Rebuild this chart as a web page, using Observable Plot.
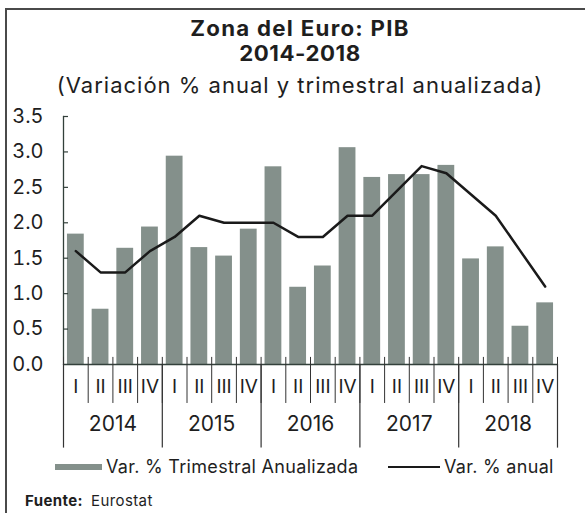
<!DOCTYPE html>
<html>
<head>
<meta charset="utf-8">
<script src="https://cdn.jsdelivr.net/npm/d3@7"></script>
<script src="https://cdn.jsdelivr.net/npm/@observablehq/plot@0.6"></script>
<style>
  html, body { margin: 0; padding: 0; background: #fff; }
  body { width: 585px; height: 513px; position: relative; overflow: hidden; font-family: "Inter", "Open Sans", sans-serif; color: #1e1e1e; }
  .frame { position: absolute; left: 5px; top: 8px; width: 580px; height: 510px; border-left: 2px solid #4a4a4a; border-top: 2px solid #4a4a4a; box-sizing: border-box; }
  .t { position: absolute; left: 15px; width: 570px; text-align: center; white-space: nowrap; }
  #t1 { top: 15.5px; font-size: 21px; font-weight: 700; line-height: 25.5px; letter-spacing: 1.2px; transform: scaleX(1.06); transform-origin: 285px 0; }
  #t1 .l2 { letter-spacing: 0.5px; }
  #t3 { top: 71.5px; font-size: 22px; font-weight: 400; line-height: 26px; letter-spacing: 1.0px; }
  #chart { position: absolute; left: 0; top: 100px; }
  #legend { position: absolute; top: 455px; left: 0; width: 585px; height: 24px; font-size: 18px; letter-spacing: 0.3px; }
  .sw { position: absolute; }
  .lt { position: absolute; top: 0; line-height: 24px; white-space: nowrap; }
  #src { position: absolute; left: 25px; top: 492px; font-size: 15px; line-height: 18px; letter-spacing: 0.4px; white-space: nowrap; }
  #src b { margin-right: 8px; }
</style>
</head>
<body>
<div class="frame"></div>
<div class="t" id="t1">Zona del Euro: PIB<br><span class="l2">2014-2018</span></div>
<div class="t" id="t3">(Variación % anual y trimestral anualizada)</div>
<div id="chart"></div>
<div id="legend"></div>
<div id="src"><b>Fuente:</b>Eurostat</div>
<script>
const years = [2014, 2015, 2016, 2017, 2018];
const quarters = ["I", "II", "III", "IV"];
const trimestral = [1.84, 0.78, 1.64, 1.94, 2.94, 1.65, 1.53, 1.91, 2.79, 1.09, 1.39, 3.06, 2.64, 2.68, 2.68, 2.81, 1.49, 1.66, 0.54, 0.87];
const anual = [1.6, 1.3, 1.3, 1.6, 1.8, 2.1, 2.0, 2.0, 2.0, 1.8, 1.8, 2.1, 2.1, 2.45, 2.8, 2.7, 2.4, 2.1, 1.6, 1.1];
const yTicks = [0, 0.5, 1.0, 1.5, 2.0, 2.5, 3.0, 3.5];
const seriesNames = ["Var. % Trimestral Anualizada", "Var. % anual"];

const barColor = "#84908b";
const lineColor = "#1a1a1a";
const axisColor = "#33403b";

const data = years.flatMap((yr, i) => quarters.map((q, j) => ({
  key: `${yr}-${q}`, year: String(yr), q, tri: trimestral[i * 4 + j], anu: anual[i * 4 + j]
})));
const keys = data.map(d => d.key);
const lastKey = keys[keys.length - 1];

const W = 585, H = 355, mL = 63, mR = 28, mT = 16, mB = 91;
const plotW = W - mL - mR;
const step = plotW / keys.length;

const chart = Plot.plot({
  width: W, height: H,
  marginLeft: mL, marginRight: mR, marginTop: mT, marginBottom: mB,
  style: { fontFamily: "Inter, 'Open Sans', sans-serif", fontSize: "20px", color: "#1e1e1e", background: "transparent", overflow: "visible" },
  x: { type: "band", domain: keys, paddingInner: 0.32, paddingOuter: 0.16, round: false, axis: null },
  y: { domain: [0, 3.5], axis: null },
  marks: [
    Plot.barY(data, { x: "key", y: "tri", fill: barColor }),
    Plot.ruleY([0], { stroke: axisColor, strokeWidth: 1.5 }),
    Plot.frame({ anchor: "left", stroke: axisColor, strokeWidth: 1.3 }),
    Plot.axisY({ ticks: yTicks, tickFormat: d => d.toFixed(1), tickSize: 0, tickPadding: 20, fontSize: 20, fill: "#1e1e1e" }),
    Plot.ruleY(yTicks.slice(1), { stroke: axisColor, strokeWidth: 1.2, insetRight: plotW - 5 }),
    Plot.lineY(data, { x: "key", y: "anu", stroke: lineColor, strokeWidth: 2.5 }),
    Plot.ruleX(data, { x: "key", dx: -step / 2, y1: 0.1, y2: -0.55, stroke: "#333", strokeWidth: 1 }),
    Plot.ruleX([lastKey], { dx: step / 2, y1: 0.1, y2: -0.55, stroke: "#333", strokeWidth: 1 }),
    Plot.ruleX(data.filter(d => d.q === "I"), { x: "key", dx: -step / 2, y1: 0, y2: -1.18, stroke: "#333", strokeWidth: 1.2 }),
    Plot.ruleX([lastKey], { dx: step / 2, y1: 0, y2: -1.18, stroke: "#333", strokeWidth: 1.2 }),
    Plot.text(data, { x: "key", text: "q", frameAnchor: "bottom", dy: 28, fontSize: 19, fill: "#1e1e1e" }),
    Plot.text(data.filter(d => d.q === "II"), { x: "key", text: "year", dx: step / 2, frameAnchor: "bottom", dy: 66, fontSize: 21, fill: "#1e1e1e" })
  ]
});
document.getElementById("chart").appendChild(chart);

const legend = document.getElementById("legend");
legend.innerHTML = `
  <div class="sw" style="left:55px; top:9px; width:47px; height:6px; background:${barColor}"></div>
  <div class="lt" style="left:106px">${seriesNames[0]}</div>
  <div class="sw" style="left:388px; top:11px; width:52px; height:2px; background:${lineColor}"></div>
  <div class="lt" style="left:444px">${seriesNames[1]}</div>`;
</script>
</body>
</html>
